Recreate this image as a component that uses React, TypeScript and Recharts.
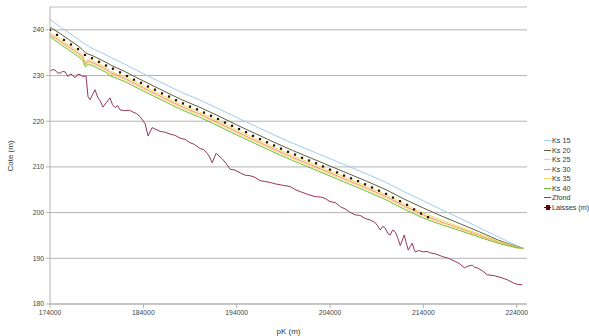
import * as React from 'react';
import { CartesianGrid, Line, LineChart, ReferenceLine, XAxis, YAxis } from 'recharts';

// pK stations (m) shared by the Ks runs
const PK_KS = [
  174000, 175000, 176000, 177000, 177500, 177800, 178100, 178500, 180000, 180500, 182000,
  184000, 186000, 188000, 190000, 192000, 194000, 196000, 198000, 200000, 202000, 204000,
  206000, 208000, 210000, 212000, 214000, 216000, 218000, 220000, 222000, 224000, 224700,
];

const KS15 = [
  242.3, 240.8, 239.4, 238.0, 237.2, 236.8, 236.4, 236.0, 234.5, 234.0, 232.5,
  230.4, 228.4, 226.4, 224.7, 222.8, 220.8, 218.9, 217.0, 215.2, 213.5, 211.8,
  210.1, 208.4, 206.6, 204.5, 202.6, 200.6, 198.7, 196.7, 194.7, 192.8, 192.2,
];
const KS20 = [
  240.6, 239.3, 237.9, 236.5, 235.6, 235.0, 234.7, 234.4, 232.9, 232.3, 230.9,
  228.8, 226.8, 224.8, 223.1, 221.2, 219.2, 217.3, 215.4, 213.6, 211.9, 210.2,
  208.5, 206.8, 205.0, 202.9, 201.0, 199.2, 197.5, 195.8, 194.0, 192.6, 192.2,
];
const KS25 = [
  239.4, 238.1, 236.7, 235.3, 234.5, 232.6, 233.6, 233.3, 231.8, 230.9, 229.8,
  227.7, 225.7, 223.7, 222.0, 220.1, 218.1, 216.2, 214.3, 212.5, 210.8, 209.1,
  207.4, 205.7, 203.9, 201.8, 199.9, 198.3, 196.8, 195.3, 193.8, 192.5, 192.2,
];
const KS30 = [
  239.0, 237.7, 236.3, 234.9, 234.1, 232.4, 233.2, 232.9, 231.4, 230.6, 229.4,
  227.3, 225.3, 223.3, 221.6, 219.7, 217.7, 215.8, 213.9, 212.1, 210.4, 208.7,
  207.0, 205.3, 203.5, 201.4, 199.5, 197.9, 196.5, 195.0, 193.6, 192.4, 192.2,
];
const KS35 = [
  238.8, 237.4, 236.0, 234.6, 233.8, 232.2, 232.9, 232.6, 231.1, 230.3, 229.1,
  227.0, 225.0, 223.0, 221.3, 219.4, 217.4, 215.5, 213.6, 211.8, 210.1, 208.4,
  206.7, 205.0, 203.2, 201.1, 199.2, 197.7, 196.3, 194.8, 193.5, 192.3, 192.2,
];
const KS40 = [
  238.5, 237.0, 235.6, 234.2, 233.4, 231.9, 232.5, 232.2, 230.7, 229.9, 228.7,
  226.6, 224.6, 222.6, 220.9, 219.0, 217.0, 215.1, 213.2, 211.4, 209.7, 208.0,
  206.3, 204.6, 202.8, 200.7, 198.8, 197.3, 196.0, 194.6, 193.3, 192.3, 192.2,
];

// fond du lit
const PK_FOND = [
  174000, 174300, 174540, 174800, 175070, 175350, 175610, 175930, 176150, 176360,
  176600, 176790, 177000, 177220, 177500, 177860, 178070, 178290, 178550, 178820,
  179100, 179360, 179680, 180000, 180430, 180700, 180970, 181250, 181500, 182000,
  182500, 182900, 183250, 183650, 184180, 184510, 184940, 185350, 185790, 186300,
  186860, 187400, 187940, 188500, 189010, 189500, 190080, 190450, 190830, 191100,
  191370, 191600, 191800, 192100, 192440, 192850, 193300, 193800, 194370, 194900,
  195400, 195980, 196500, 197050, 197600, 198120, 198900, 199730, 200300, 200800,
  201600, 202410, 203000, 203480, 204000, 204550, 205100, 205620, 206200, 206700,
  207200, 207770, 208300, 208840, 209100, 209380, 209650, 209910, 210200, 210450,
  210700, 210980, 211250, 211520, 211750, 211950, 212150, 212380, 212600, 212810,
  213000, 213130, 213500, 213990, 214400, 214740, 215400, 216020, 216700, 217420,
  217900, 218380, 218800, 219240, 219500, 219770, 220300, 220840, 221600, 222450,
  223000, 223630, 224100, 224600,
];
const ZFOND = [
  231.0, 231.3, 231.2, 230.6, 230.5, 230.9, 230.8, 229.8, 230.3, 230.2,
  229.6, 229.7, 230.3, 230.2, 229.8, 229.9, 225.4, 224.7, 225.8, 226.9,
  225.3, 224.5, 223.1, 224.0, 225.1, 223.6, 223.0, 223.4, 222.5, 222.3,
  222.4, 222.0, 221.7, 221.0, 219.5, 216.8, 218.6, 218.2, 217.8, 217.6,
  217.2, 216.9, 216.3, 216.0, 215.3, 214.9, 214.0, 213.8, 213.0, 212.2,
  210.9, 212.0, 213.0, 212.4, 211.8, 210.8, 209.5, 209.3, 208.7, 208.2,
  208.1, 207.7, 207.0, 206.8, 206.6, 206.3, 206.0, 205.7, 205.0, 204.6,
  204.0, 203.5, 203.4, 203.1, 202.4, 202.2, 201.3, 200.8, 200.0, 199.5,
  199.4, 198.7, 198.4, 197.8, 197.1, 196.2, 197.0, 196.6, 195.4, 195.1,
  196.2, 195.8, 194.5, 192.8, 194.0, 195.1, 193.5, 191.8, 192.6, 193.3,
  192.0, 191.4, 191.7, 191.4, 191.5, 191.2, 190.9, 190.4, 190.0, 189.3,
  188.8, 187.9, 188.3, 188.5, 188.0, 187.9, 187.3, 186.4, 186.2, 185.7,
  185.3, 184.6, 184.3, 184.2,
];

// laisses de crue observées
const PK_LAISSES = [
  174000, 174750, 175500, 176250, 177000, 177750, 178500, 179250, 180000, 180750,
  181500, 182250, 183000, 183750, 184500, 185250, 186000, 186750, 187500, 188250,
  189000, 189750, 190500, 191250, 192000, 192750, 193500, 194250, 195000, 195750,
  196500, 197250, 198000, 198750, 199500, 200250, 201000, 201750, 202500, 203250,
  204000, 204750, 205500, 206250, 207000, 207750, 208500, 209250, 210000, 210750,
  211500, 212250, 213000, 213750, 214500,
];
const LAISSES = [
  240.0, 238.9, 237.8, 236.8, 235.8, 234.5, 233.8, 233.0, 232.2, 231.5,
  230.7, 229.9, 229.1, 228.4, 227.6, 226.9, 226.1, 225.4, 224.6, 223.9,
  223.2, 222.6, 221.9, 221.2, 220.5, 219.7, 219.0, 218.3, 217.6, 216.8,
  216.1, 215.4, 214.7, 214.0, 213.3, 212.7, 212.0, 211.4, 210.8, 210.1,
  209.4, 208.8, 208.1, 207.5, 206.9, 206.2, 205.5, 204.8, 204.1, 203.3,
  202.5, 201.7, 200.7, 199.8, 199.0,
];

const X_TICKS = [174000, 184000, 194000, 204000, 214000, 224000];
const Y_TICKS = [180, 190, 200, 210, 220, 230, 240];

const SERIES = [
  { name: 'Ks 15', pk: PK_KS, values: KS15, color: '#9fcdee' },
  { name: 'Ks 20', pk: PK_KS, values: KS20, color: '#5e6040' },
  { name: 'Ks 25', pk: PK_KS, values: KS25, color: '#e9e14a' },
  { name: 'Ks 30', pk: PK_KS, values: KS30, color: '#f08a8a' },
  { name: 'Ks 35', pk: PK_KS, values: KS35, color: '#ffd668' },
  { name: 'Ks 40', pk: PK_KS, values: KS40, color: '#6cbf3c' },
  { name: 'Zfond', pk: PK_FOND, values: ZFOND, color: '#963460' },
];
const LAISSES_COLOR = '#6b0000';

const GRID = '#b3b3b3';
const FONT = 'Liberation Sans, Arial, sans-serif';
const TICK = { fill: '#444', fontSize: 6.8, fontFamily: FONT };

const toRows = (pk: number[], v: number[]) => pk.map((p, i) => ({ pk: p, v: v[i] }));

function Square(props: any) {
  const { cx, cy } = props;
  if (cx == null || cy == null) return null;
  return <rect x={cx - 1.1} y={cy - 1.1} width={2.2} height={2.2} fill="#2a0808" />;
}

function Legend() {
  return (
    <div
      style={{
        position: 'absolute',
        left: 544,
        top: 136,
        fontFamily: FONT,
        fontSize: 7.2,
        color: '#333',
        lineHeight: '9.5px',
        whiteSpace: 'nowrap',
      }}
    >
      {SERIES.map((s) => (
        <div key={s.name} style={{ display: 'flex', alignItems: 'center', height: 9.5 }}>
          <span style={{ width: 7, height: 1, background: s.color, marginRight: 1 }} />
          {s.name}
        </div>
      ))}
      <div style={{ display: 'flex', alignItems: 'center', height: 9.5 }}>
        <span style={{ position: 'relative', width: 7, height: 1, background: LAISSES_COLOR, marginRight: 1 }}>
          <span
            style={{ position: 'absolute', left: 1.5, top: -2, width: 4, height: 5, background: LAISSES_COLOR }}
          />
        </span>
        Laisses (m)
      </div>
    </div>
  );
}

export default function App() {
  return (
    <div style={{ position: 'absolute', left: 0, top: 0, width: 589, height: 336, background: '#fff', overflow: 'hidden' }}>
      <LineChart width={589} height={336} margin={{ top: 7, right: 62, left: 0, bottom: 0 }}>
        <CartesianGrid vertical={false} stroke={GRID} strokeWidth={1} />
        <ReferenceLine y={245} stroke="#e4e4e4" />
        <XAxis
          type="number"
          dataKey="pk"
          domain={[174000, 225100]}
          ticks={X_TICKS}
          allowDataOverflow
          height={32}
          stroke={GRID}
          tickSize={4}
          tickMargin={2}
          tick={TICK}
          label={{ value: 'pK (m)', position: 'insideBottom', offset: 2, fill: '#333', fontSize: 8, fontFamily: FONT }}
        />
        <YAxis
          type="number"
          domain={[180, 245]}
          ticks={Y_TICKS}
          allowDataOverflow
          width={50}
          stroke={GRID}
          tickSize={4}
          tickMargin={2}
          tick={TICK}
          label={{ value: 'Cote (m)', angle: -90, position: 'insideLeft', offset: 10, dy: 16, fill: '#333', fontSize: 8, fontFamily: FONT }}
        />
        {SERIES.map((s) => (
          <Line
            key={s.name}
            data={toRows(s.pk, s.values)}
            dataKey="v"
            name={s.name}
            type="linear"
            stroke={s.color}
            strokeWidth={1}
            dot={false}
            isAnimationActive={false}
          />
        ))}
        <Line
          data={toRows(PK_LAISSES, LAISSES)}
          dataKey="v"
          name="Laisses (m)"
          stroke="none"
          dot={<Square />}
          isAnimationActive={false}
        />
      </LineChart>
      <Legend />
    </div>
  );
}
